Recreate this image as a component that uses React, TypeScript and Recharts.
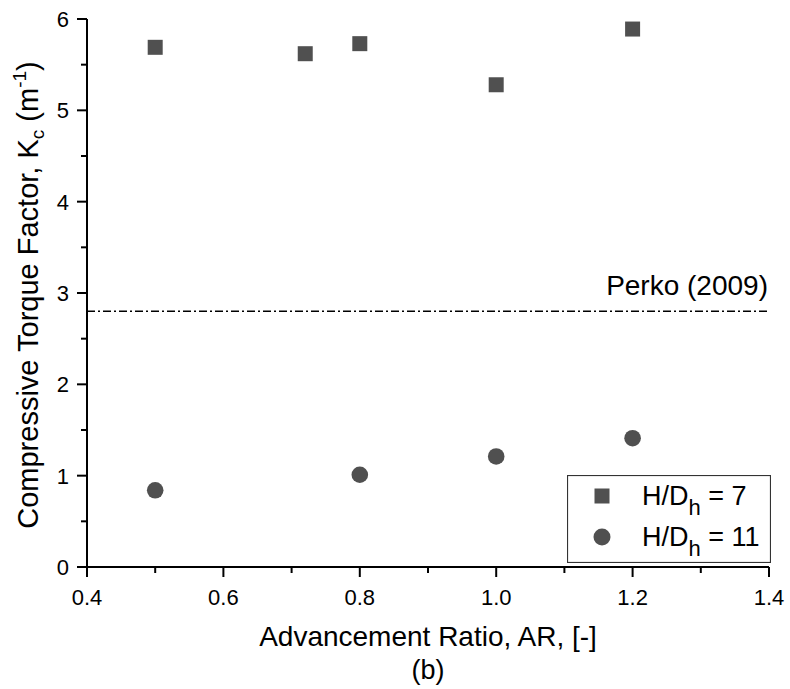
import React from 'react';
import { ScatterChart, Scatter, XAxis, YAxis, ReferenceLine, Label, Legend } from 'recharts';

// ---- data ----
const arH7 = [0.5, 0.72, 0.8, 1.0, 1.2];
const kcH7 = [5.69, 5.62, 5.73, 5.28, 5.89];
const arH11 = [0.5, 0.8, 1.0, 1.2];
const kcH11 = [0.84, 1.01, 1.21, 1.41];
const perkoKc = 2.8;
const perkoLabel = 'Perko (2009)';

const xTicks = [0.4, 0.5, 0.6, 0.7, 0.8, 0.9, 1.0, 1.1, 1.2, 1.3, 1.4];
const xMajor = [0.4, 0.6, 0.8, 1.0, 1.2, 1.4];
const yTicks = [0, 0.5, 1, 1.5, 2, 2.5, 3, 3.5, 4, 4.5, 5, 5.5, 6];
const yMajor = [0, 1, 2, 3, 4, 5, 6];

const seriesNames = ['H/Dh = 7', 'H/Dh = 11'];
const seriesMain = ['H/D', 'H/D'];
const seriesSub = ['h', 'h'];
const seriesRest = [' = 7', ' = 11'];

const xTitle = 'Advancement Ratio, AR, [-]';
const xSubTitle = '(b)';

const dataH7 = arH7.map((ar, i) => ({ ar, kc: kcH7[i] }));
const dataH11 = arH11.map((ar, i) => ({ ar, kc: kcH11[i] }));

const FONT = '"Liberation Sans", Arial, sans-serif';
const MARK = '#505050';

const isMajor = (list: number[], v: number) => list.some((m) => Math.abs(m - v) < 1e-6);

const XTick = (props: any) => {
  const { x, y, payload } = props;
  const major = isMajor(xMajor, payload.value);
  return (
    <g>
      <line x1={x} x2={x} y1={y} y2={y + (major ? 10 : 6)} stroke="#000" strokeWidth={2} />
      {major && (
        <text x={x} y={y + 38} textAnchor="middle" fontSize={22} fill="#000" fontFamily={FONT}>
          {Number(payload.value).toFixed(1)}
        </text>
      )}
    </g>
  );
};

const YTick = (props: any) => {
  const { x, y, payload } = props;
  const major = isMajor(yMajor, payload.value);
  return (
    <g>
      <line x1={x} x2={x - (major ? 10 : 6)} y1={y} y2={y} stroke="#000" strokeWidth={2} />
      {major && (
        <text x={x - 18} y={y + 8} textAnchor="end" fontSize={22} fill="#000" fontFamily={FONT}>
          {String(payload.value)}
        </text>
      )}
    </g>
  );
};

const SquareShape = (p: any) => (
  <rect x={p.cx - 7.5} y={p.cy - 7.5} width={15} height={15} fill={MARK} />
);
const CircleShape = (p: any) => <circle cx={p.cx} cy={p.cy} r={8.3} fill={MARK} />;

const LegendContent = (props: any) => {
  const payload = props.payload || [];
  return (
    <svg width={204} height={88} style={{ display: 'block' }}>
      <rect x={0.5} y={0.5} width={203} height={87} fill="#fff" stroke="#333" strokeWidth={1.2} />
      {payload.map((entry: any) => {
        let i = seriesNames.indexOf(entry.value);
        if (i < 0) i = entry.type === 'square' ? 0 : 1;
        const cy = 21 + i * 41;
        return (
          <g key={i}>
            {entry.type === 'square' ? (
              <rect x={35 - 7.5} y={cy - 7.5} width={15} height={15} fill={MARK} />
            ) : (
              <circle cx={35} cy={cy} r={8.5} fill={MARK} />
            )}
            <text x={75} y={cy + 9} fontSize={27} fill="#000" fontFamily={FONT}>
              {seriesMain[i]}
              <tspan dy={10} fontSize={22}>{seriesSub[i]}</tspan>
              <tspan dy={-10} fontSize={27}>{seriesRest[i]}</tspan>
            </text>
          </g>
        );
      })}
    </svg>
  );
};

export default function App() {
  return (
    <div style={{ position: 'absolute', left: 0, top: 0, background: '#fff' }}>
      <ScatterChart width={790} height={689} margin={{ top: 19, right: 21, left: 27, bottom: 22 }}>
        <XAxis
          type="number"
          dataKey="ar"
          domain={[0.4, 1.4]}
          ticks={xTicks}
          interval={0}
          tickSize={0}
          tickMargin={0}
          tickLine={false}
          axisLine={{ stroke: '#000', strokeWidth: 2 }}
          tick={<XTick />}
          height={100}
          allowDataOverflow
        >
          <Label
            content={(p: any) => {
              const vb = p.viewBox || {};
              const cx = vb.x + vb.width / 2;
              return (
                <g>
                  <text x={cx} y={vb.y + 79} textAnchor="middle" fontSize={28} fill="#000" fontFamily={FONT}>
                    {xTitle}
                  </text>
                  <text x={cx} y={vb.y + 112} textAnchor="middle" fontSize={27} fill="#000" fontFamily={FONT}>
                    {xSubTitle}
                  </text>
                </g>
              );
            }}
          />
        </XAxis>
        <YAxis
          type="number"
          dataKey="kc"
          domain={[0, 6]}
          ticks={yTicks}
          interval={0}
          tickSize={0}
          tickMargin={0}
          tickLine={false}
          axisLine={{ stroke: '#000', strokeWidth: 2 }}
          tick={<YTick />}
          width={60}
          allowDataOverflow
        >
          <Label
            content={(p: any) => {
              const vb = p.viewBox || {};
              const cx = vb.x + 11;
              const cy = vb.y + vb.height / 2 + 2;
              return (
                <text
                  x={cx}
                  y={cy}
                  transform={`rotate(-90, ${cx}, ${cy})`}
                  textAnchor="middle"
                  fontSize={29}
                  fill="#000"
                  fontFamily={FONT}
                >
                  Compressive Torque Factor, K
                  <tspan dy={6} fontSize={19}>c</tspan>
                  <tspan dy={-6} fontSize={29}> (m</tspan>
                  <tspan dy={-12} fontSize={19}>-1</tspan>
                  <tspan dy={12} fontSize={29}>)</tspan>
                </text>
              );
            }}
          />
        </YAxis>
        <ReferenceLine
          y={perkoKc}
          stroke="#000"
          strokeWidth={1.6}
          strokeDasharray="8 3 2 3"
          ifOverflow="extendDomain"
        >
          <Label
            content={(p: any) => {
              const vb = p.viewBox || {};
              return (
                <text
                  x={vb.x + vb.width - 1}
                  y={vb.y - 16.5}
                  textAnchor="end"
                  fontSize={28}
                  fill="#000"
                  fontFamily={FONT}
                >
                  {perkoLabel}
                </text>
              );
            }}
          />
        </ReferenceLine>
        <Scatter
          name={seriesNames[0]}
          data={dataH7}
          legendType="square"
          shape={SquareShape}
          fill={MARK}
          isAnimationActive={false}
        />
        <Scatter
          name={seriesNames[1]}
          data={dataH11}
          legendType="circle"
          shape={CircleShape}
          fill={MARK}
          isAnimationActive={false}
        />
        <Legend
          layout="horizontal"
          verticalAlign="middle"
          align="center"
          content={<LegendContent />}
          wrapperStyle={{ position: 'absolute', left: 567, top: 475, width: 204, height: 88 }}
        />
      </ScatterChart>
    </div>
  );
}
